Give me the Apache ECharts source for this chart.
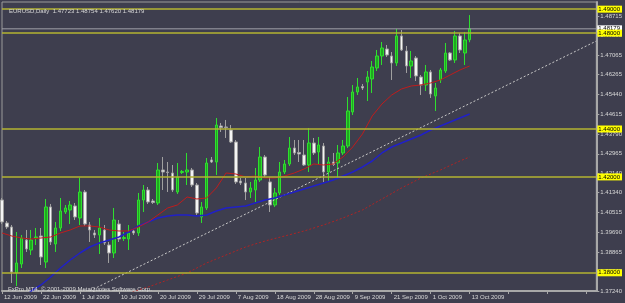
<!DOCTYPE html>
<html>
<head>
<meta charset="utf-8">
<script src="https://cdn.jsdelivr.net/npm/echarts@6/dist/echarts.min.js"></script>
<style>
html,body{margin:0;padding:0;background:#3e3e4e;}
#chart{width:625px;height:303px;}
</style>
</head>
<body>
<div id="chart"></div>
<script>
// EURUSD daily bars, [open, close, low, high]
var candles = [
[1.41038,1.40120,1.40036,1.41121],[1.40078,1.39911,1.39828,1.40161],[1.39911,1.38033,1.37574,1.39994],
[1.37991,1.38409,1.37449,1.39702],[1.38367,1.39452,1.38200,1.39577],[1.39368,1.38993,1.38868,1.39786],
[1.38951,1.39368,1.38743,1.39786],[1.39452,1.39494,1.39160,1.39869],[1.39535,1.38659,1.38325,1.39869],
[1.38450,1.40746,1.38200,1.41079],[1.40746,1.39285,1.39160,1.40871],[1.39202,1.39869,1.38868,1.40120],
[1.39869,1.40579,1.39744,1.41121],[1.40537,1.40704,1.40453,1.40829],[1.40620,1.40829,1.40036,1.40996],
[1.40787,1.40328,1.40203,1.40912],[1.40286,1.41371,1.39994,1.41956],[1.41371,1.40036,1.39953,1.41455],
[1.39994,1.39786,1.39285,1.40120],[1.39661,1.39577,1.39452,1.39786],[1.39577,1.39869,1.38784,1.40286],
[1.39786,1.39243,1.39160,1.39994],[1.39160,1.38826,1.38409,1.39285],[1.38826,1.40203,1.38617,1.40704],
[1.40036,1.39410,1.39285,1.40203],[1.39431,1.39473,1.39327,1.39702],[1.39410,1.39661,1.38951,1.39994],
[1.39744,1.39661,1.39577,1.39828],[1.39661,1.41038,1.39535,1.41330],[1.41038,1.41455,1.40537,1.41663],
[1.41455,1.40954,1.40871,1.41580],[1.40996,1.40933,1.40871,1.41079],[1.40912,1.42289,1.40829,1.42581],
[1.42289,1.42206,1.41455,1.42832],[1.42206,1.42185,1.41371,1.42623],[1.42164,1.41455,1.41371,1.42498],
[1.41371,1.41997,1.41288,1.42581],[1.42185,1.42227,1.42122,1.42289],[1.42206,1.42289,1.41663,1.42999],
[1.42289,1.41663,1.41580,1.42373],[1.41663,1.40495,1.40412,1.41747],[1.40328,1.40746,1.40078,1.40954],
[1.40704,1.42581,1.40620,1.42790],[1.42707,1.42623,1.42581,1.42832],[1.42623,1.44167,1.42081,1.44459],
[1.44125,1.44063,1.43875,1.44251],[1.44084,1.44063,1.43625,1.44376],[1.43958,1.43458,1.43416,1.44167],
[1.43458,1.41789,1.41705,1.43541],[1.41830,1.41747,1.41663,1.41956],[1.41747,1.41371,1.41038,1.41956],
[1.41371,1.41538,1.41121,1.41789],[1.41455,1.41872,1.40954,1.42373],[1.41872,1.42832,1.41789,1.43249],
[1.42832,1.42081,1.41997,1.42915],[1.41789,1.40829,1.40537,1.41997],[1.40829,1.41330,1.40746,1.41538],
[1.41330,1.42206,1.41246,1.42623],[1.42206,1.42540,1.42122,1.42707],[1.42540,1.43207,1.42456,1.43666],
[1.43207,1.42999,1.42915,1.43541],[1.43020,1.42957,1.42623,1.43541],[1.42915,1.42498,1.42456,1.43541],
[1.42498,1.43416,1.42206,1.44042],[1.43416,1.42999,1.42915,1.43625],[1.43040,1.43333,1.42498,1.43666],
[1.43291,1.42206,1.41789,1.43416],[1.42206,1.42623,1.41789,1.42832],[1.42623,1.42519,1.42456,1.42999],
[1.42581,1.42999,1.41956,1.43333],[1.42999,1.43291,1.42915,1.43541],[1.43291,1.44751,1.43207,1.45335],
[1.44710,1.45544,1.44584,1.45836],[1.45544,1.45753,1.45419,1.46128],[1.45774,1.45711,1.45628,1.45878],
[1.45961,1.46170,1.45169,1.46420],[1.46087,1.46587,1.45502,1.46838],[1.46546,1.47046,1.46420,1.47297],
[1.47046,1.47380,1.46671,1.47630],[1.47338,1.47088,1.47005,1.47505],[1.47046,1.46754,1.46045,1.47213],
[1.46754,1.47881,1.46629,1.48173],[1.47881,1.47297,1.47255,1.48131],[1.47255,1.46629,1.46337,1.47464],
[1.46629,1.46838,1.46128,1.47255],[1.46963,1.46212,1.46003,1.47046],[1.46170,1.45836,1.45419,1.46253],
[1.45836,1.46379,1.45586,1.46671],[1.46379,1.45461,1.45294,1.46462],[1.45377,1.45711,1.44751,1.45920],
[1.46045,1.46462,1.45920,1.46546],[1.46420,1.47171,1.46337,1.47589],[1.47171,1.46879,1.46838,1.47213],
[1.46879,1.47881,1.46754,1.48089],[1.47881,1.47297,1.47171,1.48006],[1.47171,1.47714,1.46671,1.48048],
[1.47723,1.48179,1.47620,1.48754]
];

// moving averages, [bar index, price]
var redMa = [
[0,1.39661],[2,1.39535],[4,1.39452],[6,1.39410],[8,1.39452],[10,1.39494],[12,1.39661],[14,1.39786],
[16,1.39953],[18,1.39953],[20,1.39911],[22,1.39786],[24,1.39744],[26,1.39744],[28,1.39911],[30,1.40120],
[32,1.40412],[34,1.40704],[36,1.40829],[38,1.41163],[40,1.41079],[42,1.41121],[44,1.41538],[46,1.42164],
[48,1.42122],[50,1.41997],[52,1.42039],[54,1.41956],[56,1.41956],[58,1.42039],[60,1.42164],[62,1.42331],
[64,1.42540],[66,1.42498],[68,1.42540],[70,1.42832],[72,1.43249],[74,1.43792],[76,1.44543],[78,1.45043],
[80,1.45419],[82,1.45669],[84,1.45794],[86,1.45836],[88,1.45920],[90,1.46045],[92,1.46253],[94,1.46462],
[96,1.46629]
];
var blueMa = [
[4,1.36865],[6,1.37240],[8,1.37491],[10,1.37825],[12,1.38200],[14,1.38534],[16,1.38826],[18,1.39076],
[20,1.39243],[22,1.39368],[24,1.39494],[26,1.39702],[28,1.39953],[30,1.40120],[32,1.40286],[34,1.40370],
[36,1.40412],[38,1.40412],[40,1.40370],[42,1.40412],[44,1.40579],[46,1.40704],[48,1.40746],[50,1.40787],
[52,1.40912],[54,1.41038],[56,1.41121],[58,1.41246],[60,1.41371],[62,1.41497],[64,1.41622],[66,1.41747],
[68,1.41872],[70,1.42039],[72,1.42206],[74,1.42415],[76,1.42665],[78,1.42999],[80,1.43249],[82,1.43416],
[84,1.43583],[86,1.43750],[88,1.43958],[90,1.44125],[92,1.44292],[94,1.44459],[96,1.44626]
];
var slowMa = [
[26,1.37157],[30,1.37407],[34,1.37699],[38,1.37991],[42,1.38409],[46,1.38743],[50,1.39076],[54,1.39327],
[58,1.39535],[62,1.39744],[66,1.39994],[70,1.40286],[74,1.40620],[78,1.41079],[82,1.41538],[86,1.41956],
[90,1.42289],[94,1.42665],[96,1.42832]
];
var trendLine = [[18,1.37240],[122,1.47670]];

var levels = [1.49000, 1.48000, 1.44000, 1.42000, 1.38000];
var bidPrice = 1.48179;

var dateLabels = ['12 Jun 2009','22 Jun 2009','1 Jul 2009','10 Jul 2009','20 Jul 2009','29 Jul 2009',
    '7 Aug 2009','18 Aug 2009','28 Aug 2009','9 Sep 2009','21 Sep 2009','1 Oct 2009','13 Oct 2009'];
var priceTicks = [1.37240,1.38040,1.38865,1.39690,1.40515,1.41340,1.42140,1.42965,1.43790,
    1.44615,1.45440,1.46265,1.47065,1.47890,1.48715];
var barCount = 123; // bars plus the empty shift area on the right

var cats = [];
for (var i = 0; i < barCount; i++) cats.push(String(i));

var txt = '#d8d8d8';
var font = 'Liberation Sans';

var levelMarks = [];
for (var k = 0; k < levels.length; k++) {
    levelMarks.push({yAxis: levels[k]});
}

var chart = echarts.init(document.getElementById('chart'));
var option = {
    backgroundColor: '#3e3e4e',
    animation: false,
    textStyle: {fontFamily: font},
    title: [
        {text: 'EURUSD,Daily  1.47723 1.48754 1.47620 1.48179', left: 4, top: 3,
            textStyle: {color: txt, fontSize: 6, fontWeight: 'normal', fontFamily: font}},
        {text: 'FxPro MT4, © 2001-2009 MetaQuotes Software Corp.', left: 3, top: 281,
            textStyle: {color: txt, fontSize: 6, fontWeight: 'normal', fontFamily: font}}
    ],
    grid: {left: 2, right: 23, top: 2, bottom: 12, show: true, borderColor: '#9a9a9a', borderWidth: 1},
    xAxis: {
        type: 'category',
        data: cats,
        boundaryGap: false,
        axisLine: {lineStyle: {color: '#a8a8a8', width: 2}},
        axisTick: {interval: 7, length: 3, lineStyle: {color: '#a8a8a8'}},
        axisLabel: {
            interval: 7, align: 'left', margin: 3, fontSize: 6, color: txt, padding: [0, 0, 0, 2],
            formatter: function (v, idx) { return dateLabels[idx / 8] || ''; }
        },
        splitLine: {show: false}
    },
    yAxis: {
        type: 'value',
        position: 'right',
        min: 1.37240,
        max: 1.49299,
        axisLine: {show: true, lineStyle: {color: '#a8a8a8', width: 2}},
        axisTick: {show: true, length: 3, customValues: priceTicks, lineStyle: {color: '#a8a8a8'}},
        axisLabel: {
            customValues: priceTicks, margin: 4, fontSize: 6, color: txt,
            formatter: function (v) { return v.toFixed(5); }
        },
        splitLine: {show: false}
    },
    series: [
        {
            // bid line across the whole chart, white price box at its end
            type: 'line', data: [[0, bidPrice], [barCount - 1, bidPrice]],
            symbol: 'none', silent: true, z: 3,
            lineStyle: {color: '#a0a0a8', width: 1},
            endLabel: {
                show: true, distance: 1, fontSize: 6, padding: [1, 2, 0, 1],
                backgroundColor: '#ffffff', color: '#000',
                formatter: function () { return bidPrice.toFixed(5); }
            }
        },
        {
            type: 'line', data: slowMa, symbol: 'none', silent: true,
            lineStyle: {color: '#b02424', width: 1, type: [2, 2]}
        },
        {
            type: 'line', data: trendLine, symbol: 'none', silent: true,
            lineStyle: {color: '#c8c8c8', width: 1, type: [2, 2]}
        },
        {
            type: 'line', data: blueMa, symbol: 'none', silent: true,
            lineStyle: {color: '#2020c8', width: 1.5}
        },
        {
            type: 'line', data: redMa, symbol: 'none', silent: true,
            lineStyle: {color: '#c01c1c', width: 1}
        },
        {
            type: 'candlestick',
            data: candles,
            barWidth: 3,
            itemStyle: {
                color: '#1fa81f', color0: '#f4f4f4',
                borderColor: '#2ee02e', borderColor0: '#a0a0a0', borderWidth: 1
            },
            markLine: {
                silent: true, symbol: 'none', animation: false,
                lineStyle: {color: '#b4b432', width: 1.5, type: 'solid'},
                label: {
                    position: 'end', distance: 1, fontSize: 6, padding: [1, 2, 0, 1],
                    backgroundColor: '#ffff00', color: '#000',
                    formatter: function (p) { return p.value.toFixed(5); }
                },
                data: levelMarks
            }
        }
    ]
};
chart.setOption(option);
</script>
</body>
</html>
